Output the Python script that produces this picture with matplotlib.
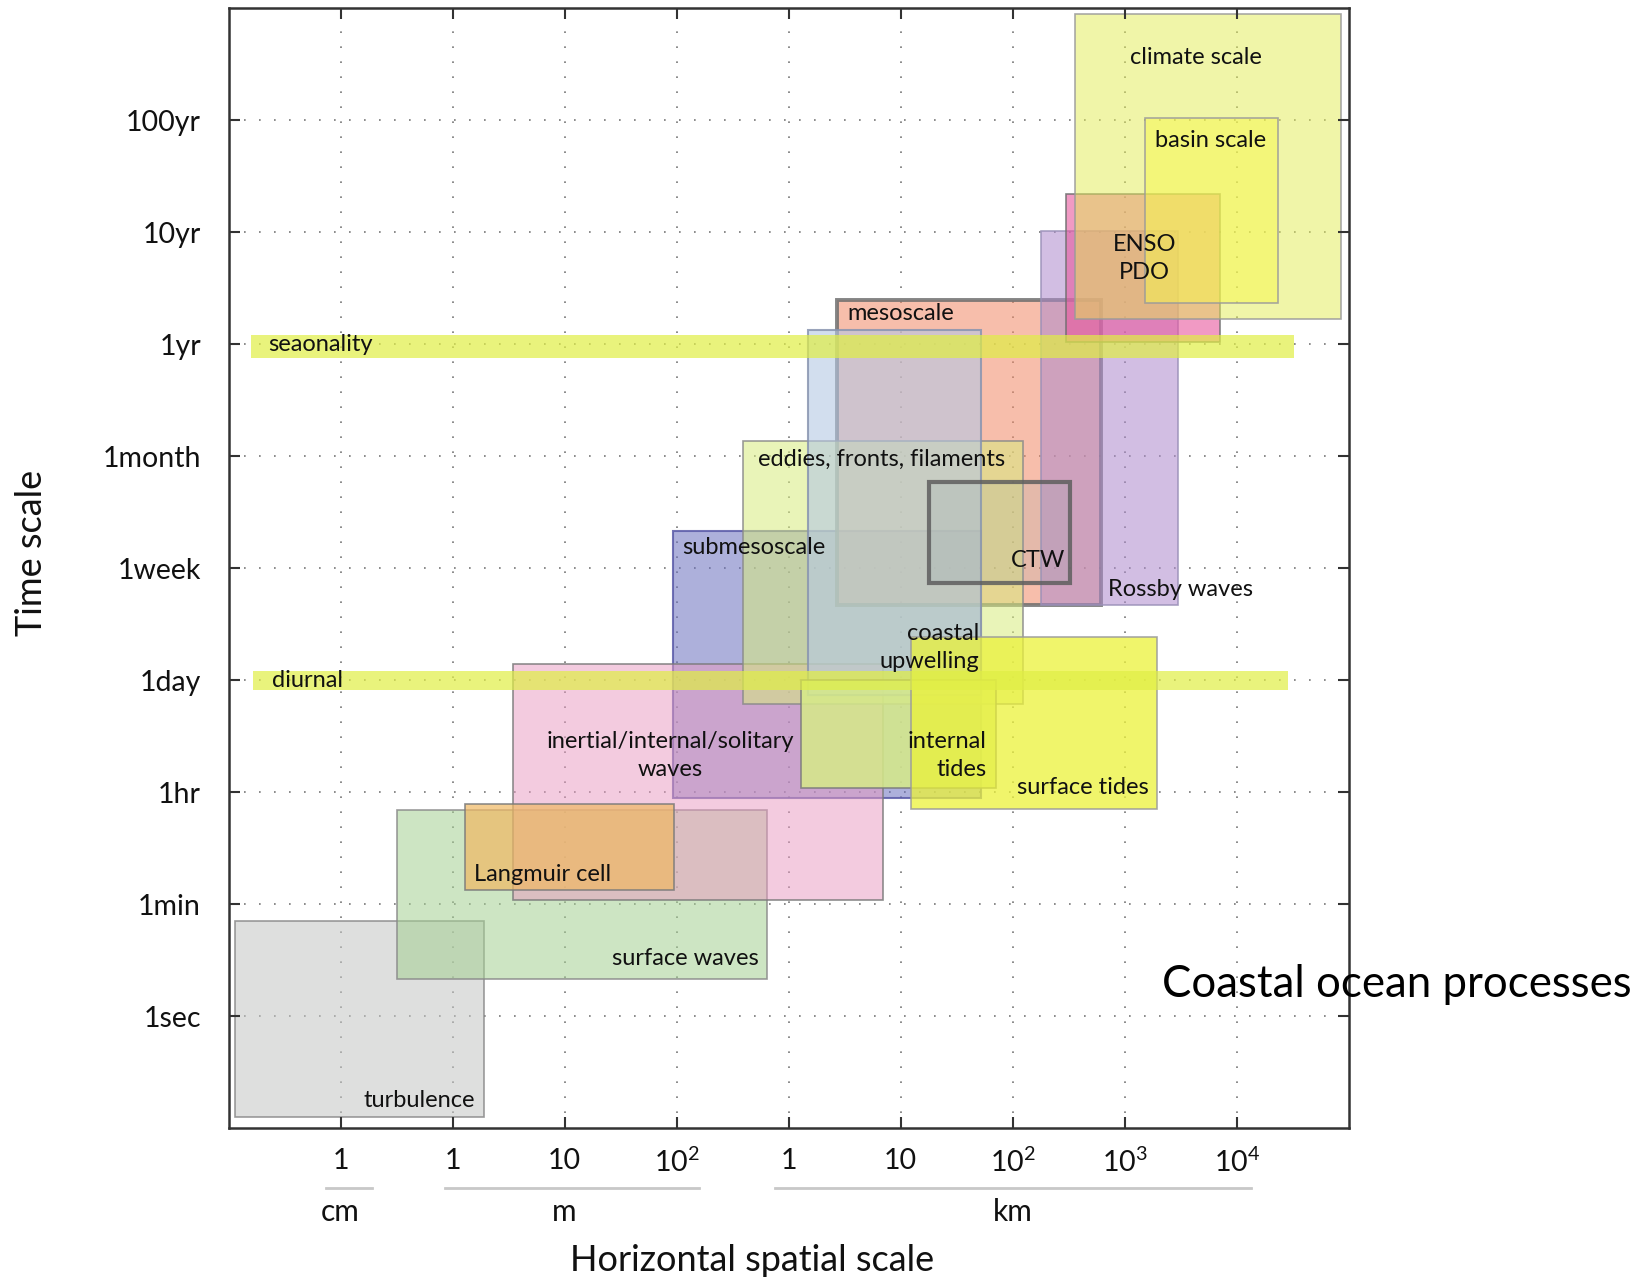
import matplotlib.pyplot as plt
from matplotlib.patches import Rectangle
from matplotlib.colors import to_rgba

plt.rcParams['font.family'] = ['Lato', 'DejaVu Sans']
plt.rcParams['mathtext.fontset'] = 'custom'
plt.rcParams['mathtext.rm'] = 'Lato'

# x axis: equally spaced tick slots, grouped by unit
x_ticks = [1, 2, 3, 4, 5, 6, 7, 8, 9]
x_labels = ['1', '1', '10', r'$\mathregular{10^2}$', '1', '10',
            r'$\mathregular{10^2}$', r'$\mathregular{10^3}$', r'$\mathregular{10^4}$']
unit_names = ['cm', 'm', 'km']
unit_mid = [1, 3, 7]
unit_lo = [0.87, 1.93, 4.88]
unit_hi = [1.28, 4.20, 9.13]

# y axis: time scale slots
y_ticks = [1, 2, 3, 4, 5, 6, 7, 8, 9]
y_labels = ['1sec', '1min', '1hr', '1day', '1week', '1month', '1yr', '10yr', '100yr']

# processes (extent in tick-slot units), drawn in this order
procs = ['turbulence', 'surface waves', 'submesoscale', 'inertial waves', 'Langmuir cell',
         'mesoscale', 'eddies', 'coastal upwelling', 'Rossby waves', 'CTW',
         'internal tides', 'surface tides', 'ENSO PDO', 'climate scale', 'basin scale',
         'seaonality', 'diurnal']
x_lo = [0.06, 1.50, 3.97, 2.54, 2.11, 5.43, 4.59, 5.17, 7.25, 6.25, 5.11, 6.09, 7.48, 7.56, 8.18, 0.20, 0.22]
x_hi = [2.28, 4.81, 6.72, 5.84, 3.98, 7.79, 7.09, 6.72, 8.48, 7.51, 6.85, 8.29, 8.85, 9.93, 9.37, 9.51, 9.46]
y_lo = [0.10, 1.33, 2.95, 2.04, 2.13, 4.67, 3.79, 3.87, 4.67, 4.87, 3.04, 2.85, 7.02, 7.23, 7.37, 6.88, 3.91]
y_hi = [1.85, 2.84, 5.33, 4.15, 2.90, 7.40, 6.14, 7.13, 8.01, 5.77, 4.00, 4.39, 8.34, 9.95, 9.02, 7.08, 4.08]

# styles
face = ['#c4c6c4', '#a4d092', '#6a6fbf', '#e999c1', '#f0b863',
        '#f28a66', '#d7eb7e', '#b5c8e4', '#ad8acd', '#8fa4aa',
        '#d6ea88', '#ebf23a', '#e9579e', '#e3ed53', '#f7f84b',
        '#e0ee45', '#e0ee45']
alpha = [0.55, 0.55, 0.55, 0.5, 0.7,
         0.55, 0.55, 0.6, 0.55, 0.18,
         0.85, 0.75, 0.6, 0.5, 0.5,
         0.7, 0.7]
edge = ['#8a8a8a', '#8a8a8a', '#5a5aa8', '#7a7a7a', '#7a7a7a',
        '#6e6e6e', '#8a8a8a', '#8894b0', '#9a90b8', '#5e5e5e',
        '#7a7a7a', '#9a9a9a', '#6e6e6e', '#9a9a9a', '#9a9a9a',
        'none', 'none']
lw = [1.2, 1.2, 1.5, 1.2, 1.2,
      2.8, 1.2, 1.5, 1.2, 3.0,
      1.2, 1.2, 1.2, 1.2, 1.2,
      0, 0]

labels = [('climate scale', 8.64, 9.56, 'center'),
          ('basin scale', 8.77, 8.82, 'center'),
          ('ENSO\nPDO', 8.18, 7.77, 'center'),
          ('mesoscale', 5.52, 7.28, 'left'),
          ('seaonality', 0.35, 7.0, 'left'),
          ('eddies, fronts, filaments', 5.83, 5.97, 'center'),
          ('CTW', 7.23, 5.07, 'center'),
          ('Rossby waves', 7.85, 4.81, 'left'),
          ('submesoscale', 4.05, 5.19, 'left'),
          ('coastal\nupwelling', 6.70, 4.29, 'right'),
          ('diurnal', 0.39, 4.0, 'left'),
          ('inertial/internal/solitary\nwaves', 3.94, 3.33, 'center'),
          ('internal\ntides', 6.77, 3.33, 'right'),
          ('surface tides', 7.04, 3.04, 'left'),
          ('Langmuir cell', 2.19, 2.27, 'left'),
          ('surface waves', 4.73, 1.52, 'right'),
          ('turbulence', 2.20, 0.25, 'right')]

fig = plt.figure(figsize=(16.52, 12.77), dpi=100)
fig.patch.set_facecolor('white')
ax = fig.add_axes([0.1384, 0.1164, 0.678, 0.877])
ax.set_xlim(0, 10)
ax.set_ylim(0, 10)

# dotted grid under the boxes
for v in x_ticks:
    ax.axvline(v, color='#777777', lw=1.2, ls=(0, (1, 8)), zorder=0.5)
for v in y_ticks:
    ax.axhline(v, color='#777777', lw=1.2, ls=(0, (1, 8)), zorder=0.5)

for i in range(len(procs)):
    r = Rectangle((x_lo[i], y_lo[i]), x_hi[i] - x_lo[i], y_hi[i] - y_lo[i],
                  facecolor=to_rgba(face[i], alpha[i]),
                  edgecolor=to_rgba(edge[i], 0.85) if edge[i] != 'none' else 'none',
                  linewidth=lw[i], zorder=1 + i * 0.01)
    ax.add_patch(r)

for txt, x, y, ha in labels:
    ax.text(x, y, txt, ha=ha, va='center', multialignment=ha, fontsize=17,
            color='#111111', linespacing=1.42, zorder=5)

ax.set_xticks(x_ticks)
ax.set_xticklabels(x_labels)
ax.set_yticks(y_ticks)
ax.set_yticklabels(y_labels)
ax.tick_params(axis='both', direction='in', length=8, width=1.5, color='#333333',
               labelsize=20.5, labelcolor='#111111', top=True, right=True)
ax.tick_params(axis='x', pad=14)
ax.tick_params(axis='y', pad=20)
for s in ax.spines.values():
    s.set_color('#333333')
    s.set_linewidth(1.8)

# unit groups under the x axis
tr = ax.get_xaxis_transform()
for name, mid, lo, hi in zip(unit_names, unit_mid, unit_lo, unit_hi):
    ax.plot([lo, hi], [-0.0536, -0.0536], color='#c8c8c8', lw=2, transform=tr, clip_on=False)
    ax.text(mid, -0.0745, name, transform=tr, ha='center', va='center', fontsize=21.5, color='#111111')

fig.text(0.455, 0.013, 'Horizontal spatial scale', ha='center', va='center', fontsize=26, color='#111111')
fig.text(0.019, 0.567, 'Time scale', ha='center', va='center', rotation=90, fontsize=26, color='#111111')
fig.text(0.7035, 0.2287, 'Coastal ocean processes', ha='left', va='center', fontsize=31.5, color='black')

fig.savefig('out.png', dpi=100, facecolor='white')
